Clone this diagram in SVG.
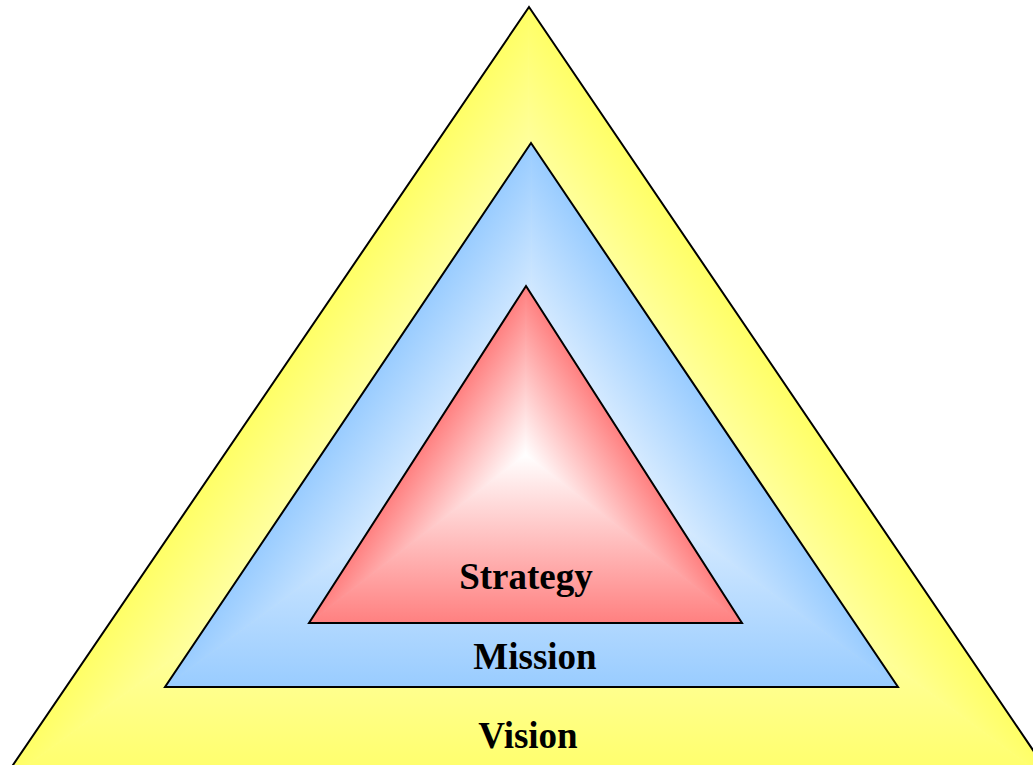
<svg xmlns="http://www.w3.org/2000/svg" width="1033" height="765" viewBox="0 0 1033 765">
<style>
.lbl{font-family:"Liberation Serif","Times New Roman",serif;font-weight:bold;font-size:37px;fill:#000;text-anchor:middle}
.outline{fill:none;stroke:#000;stroke-width:2;stroke-linejoin:miter}
</style>
<defs>
<!-- yellow -->
<linearGradient id="yAB" gradientUnits="userSpaceOnUse" x1="709.85" y1="273.67" x2="528" y2="397"><stop offset="0" stop-color="#FFFF66"/><stop offset="1" stop-color="#FFFFFF"/></linearGradient>
<linearGradient id="yBC" gradientUnits="userSpaceOnUse" x1="528" y1="787" x2="528" y2="397"><stop offset="0" stop-color="#FFFF66"/><stop offset="1" stop-color="#FFFFFF"/></linearGradient>
<linearGradient id="yCA" gradientUnits="userSpaceOnUse" x1="347.26" y1="273.96" x2="528" y2="397"><stop offset="0" stop-color="#FFFF66"/><stop offset="1" stop-color="#FFFFFF"/></linearGradient>
<!-- blue -->
<linearGradient id="bAB" gradientUnits="userSpaceOnUse" x1="657.26" y1="330.16" x2="531.5" y2="415"><stop offset="0" stop-color="#99CCFF"/><stop offset="1" stop-color="#FFFFFF"/></linearGradient>
<linearGradient id="bBC" gradientUnits="userSpaceOnUse" x1="531.5" y1="687" x2="531.5" y2="415"><stop offset="0" stop-color="#99CCFF"/><stop offset="1" stop-color="#FFFFFF"/></linearGradient>
<linearGradient id="bCA" gradientUnits="userSpaceOnUse" x1="405.18" y1="330.01" x2="531.5" y2="415"><stop offset="0" stop-color="#99CCFF"/><stop offset="1" stop-color="#FFFFFF"/></linearGradient>
<!-- red -->
<linearGradient id="rAB" gradientUnits="userSpaceOnUse" x1="602.41" y1="405.21" x2="525.5" y2="454.5"><stop offset="0" stop-color="#FF8080"/><stop offset="1" stop-color="#FFFFFF"/></linearGradient>
<linearGradient id="rBC" gradientUnits="userSpaceOnUse" x1="525.5" y1="623" x2="525.5" y2="454.5"><stop offset="0" stop-color="#FF8080"/><stop offset="1" stop-color="#FFFFFF"/></linearGradient>
<linearGradient id="rCA" gradientUnits="userSpaceOnUse" x1="449.16" y1="405.34" x2="525.5" y2="454.5"><stop offset="0" stop-color="#FF8080"/><stop offset="1" stop-color="#FFFFFF"/></linearGradient>
</defs>

<g id="vision">
<polygon points="528,397 529,7 1058,787" fill="url(#yAB)" stroke="url(#yAB)" stroke-width="1"/>
<polygon points="528,397 1058,787 -2,787" fill="url(#yBC)" stroke="url(#yBC)" stroke-width="1"/>
<polygon points="528,397 -2,787 529,7" fill="url(#yCA)" stroke="url(#yCA)" stroke-width="1"/>
<polygon class="outline" points="529,7 1058,787 -2,787"/>
<text class="lbl" x="528" y="748">Vision</text>
</g>

<g id="mission">
<polygon points="531.5,415 531,143 898,687" fill="url(#bAB)" stroke="url(#bAB)" stroke-width="1"/>
<polygon points="531.5,415 898,687 165,687" fill="url(#bBC)" stroke="url(#bBC)" stroke-width="1"/>
<polygon points="531.5,415 165,687 531,143" fill="url(#bCA)" stroke="url(#bCA)" stroke-width="1"/>
<polygon class="outline" points="531,143 898,687 165,687"/>
<text class="lbl" x="535" y="669">Mission</text>
</g>

<g id="strategy">
<polygon points="525.5,454.5 526,286 742,623" fill="url(#rAB)" stroke="url(#rAB)" stroke-width="1"/>
<polygon points="525.5,454.5 742,623 309,623" fill="url(#rBC)" stroke="url(#rBC)" stroke-width="1"/>
<polygon points="525.5,454.5 309,623 526,286" fill="url(#rCA)" stroke="url(#rCA)" stroke-width="1"/>
<polygon class="outline" points="526,286 742,623 309,623"/>
<text class="lbl" x="526" y="589">Strategy</text>
</g>
</svg>
